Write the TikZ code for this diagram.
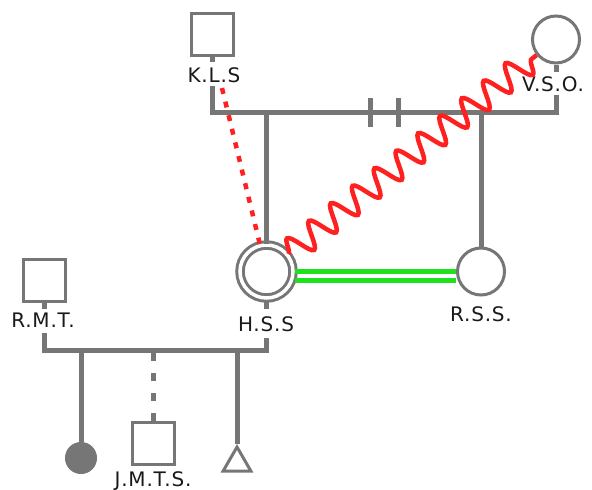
\documentclass[tikz,border=0pt]{standalone}
\usepackage{fontspec}
\setmainfont[LetterSpace=4]{DejaVu Sans}
\usetikzlibrary{decorations.pathmorphing,shapes.geometric}
\definecolor{lg}{RGB}{118,118,118}
\definecolor{zred}{RGB}{255,32,32}
\definecolor{zgreen}{RGB}{30,225,30}
\begin{document}
\begin{tikzpicture}[x=1pt,y=-1pt,
  sq/.style={draw=lg,line width=3pt,fill=white,minimum size=42pt,inner sep=0pt,rectangle},
  circ/.style={draw=lg,line width=3pt,fill=white,circle,minimum size=47pt,inner sep=0pt},
  dcirc/.style={draw=lg,line width=3pt,double=white,double distance=3.5pt,circle,minimum size=53pt,inner sep=0pt},
  filledc/.style={draw=lg,fill=lg,line width=1pt,circle,minimum size=31pt,inner sep=0pt},
  tri/.style={draw=lg,line width=3pt,fill=white,regular polygon,regular polygon sides=3,minimum size=32pt,inner sep=0pt},
  lbl/.style={font=\fontsize{20}{22}\selectfont,inner sep=0pt,text=black!90},
  conn/.style={draw=lg,line width=5pt},
  dotconn/.style={draw=lg,line width=5pt,dash pattern=on 8pt off 12pt},
  redzig/.style={draw=zred,line width=4.5pt,decorate,decoration={snake,segment length=28pt,amplitude=13pt}},
  reddot/.style={draw=zred,line width=4.5pt,dash pattern=on 6pt off 8pt},
  greenl/.style={draw=zgreen,line width=5pt}]
\useasboundingbox (0,0) rectangle (592,490);

% persons
\node[sq] (kls) at (212.5,34) {};
\node[lbl] (klsl) at (214,75) {K.L.S};
\node[circ] (vso) at (556,39.5) {};
\node[lbl] (vsol) at (553,84.5) {V.S.O.};
\node[dcirc] (hss) at (266.5,271.5) {};
\node[lbl] (hssl) at (266,324.5) {H.S.S};
\node[circ] (rss) at (481,271.5) {};
\node[lbl] (rssl) at (481,314.5) {R.S.S.};
\node[sq] (rmt) at (44,280) {};
\node[lbl] (rmtl) at (43,320.5) {R.M.T.};
\node[filledc] (dau) at (81,458) {};
\node[sq] (jmts) at (153,443) {};
\node[lbl] (jmtsl) at (153,481) {J.M.T.S.};
\node[tri] (unk) at (237,463) {};

% coordinates
\coordinate (klsS) at (212.5,62);
\coordinate (klsT) at (212.5,86);
\coordinate (m1a) at (212.5,112);
\coordinate (m1b) at (556,112);
\coordinate (vsoS) at (556,72);
\coordinate (vsoT) at (556,95);
\coordinate (hssU) at (266.5,112);
\coordinate (rssU) at (481,112);
\coordinate (d1t) at (370,98);
\coordinate (d1b) at (370,127);
\coordinate (d2t) at (398,98);
\coordinate (d2b) at (398,127);
\coordinate (hssS) at (266.5,309);
\coordinate (hssT) at (266.5,338);
\coordinate (m2b) at (266.5,350);
\coordinate (rmtS) at (44,309);
\coordinate (rmtT) at (44,333);
\coordinate (m2a) at (44,350);
\coordinate (c1) at (81,350);
\coordinate (c2) at (153,353);
\coordinate (c3) at (237,350);
\coordinate (kd) at (222,88);

% stubs
\draw[conn] (kls.south) -- (klsS);
\draw[conn] (vso.south) -- (vsoS);
\draw[conn] (hss.south) -- (hssS);
\draw[conn] (rmt.south) -- (rmtS);

% upper union
\draw[conn] (klsT) -- (m1a) -- (m1b) -- (vsoT);
\draw[conn] (hssU) -- (hss.north);
\draw[conn] (rssU) -- (rss.north);
\draw[conn] (d1t) -- (d1b);
\draw[conn] (d2t) -- (d2b);

% lower union
\draw[conn] (rmtT) -- (m2a) -- (m2b) -- (hssT);
\draw[conn] (c1) -- (dau.north);
\draw[dotconn] (c2) -- (jmts.north);
\draw[conn] (c3) -- (unk.corner 1);

% relations
\draw[greenl] (hss.east) -- (rss.west);
\draw[greenl] ([yshift=-9pt]hss.east) -- ([yshift=-9pt]rss.west);
\draw[reddot] (kd) -- (hss);
\draw[redzig] (hss) -- (vso);
\end{tikzpicture}
\end{document}
